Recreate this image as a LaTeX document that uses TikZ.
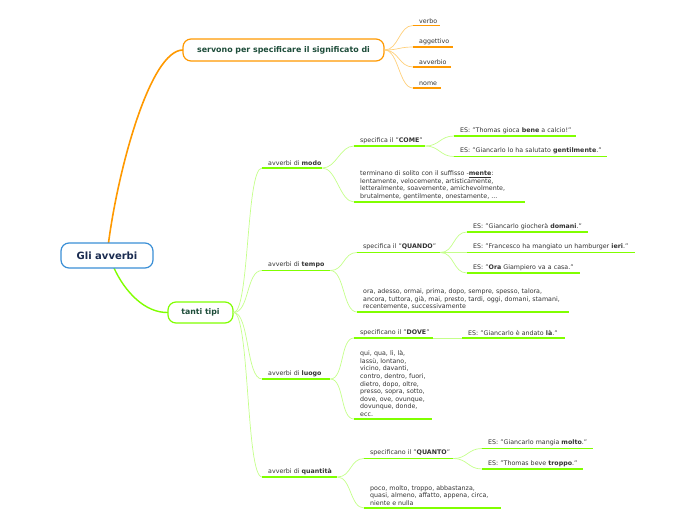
\documentclass[tikz,border=0pt]{standalone}
\usepackage{fontspec}
\setmainfont{DejaVu Sans}
\definecolor{orng}{HTML}{FF9900}
\definecolor{orlight}{HTML}{FFCF7A}
\definecolor{grn}{HTML}{80FF00}
\definecolor{glight}{HTML}{C4FF8A}
\definecolor{navy}{HTML}{1A2B50}
\definecolor{dgreen}{HTML}{1E4D3A}
\definecolor{bluebd}{HTML}{3A8FD6}
\definecolor{txt}{HTML}{333333}
\begin{document}
\begin{tikzpicture}[x=1pt,y=-1pt,
  font=\fontsize{6.3}{7.6}\selectfont,
  box/.style={rounded corners=8pt, line width=1.2pt, fill=white, inner sep=0pt},
  leaf/.style={anchor=south west, inner xsep=6pt, inner ysep=2.2pt, align=left, text=txt, text width=#1},
  gul/.style={draw=grn, line width=1.8pt},
  oul/.style={draw=orng, line width=1.6pt},
  gc/.style={draw=glight, line width=0.7pt, to path={.. controls +(#1,0) and +(-#1,0) .. (\tikztotarget)}},
  gc/.default=14,
  oc/.style={draw=orlight, line width=0.7pt, to path={.. controls +(#1,0) and +(-#1,0) .. (\tikztotarget)}},
  oc/.default=14]
\useasboundingbox (0,0) rectangle (696,520);

% main connectors
\draw[orng, line width=1.6pt] (108.5,243) .. controls (118,170) and (150,50) .. (183,50) coordinate (oend);
\draw[grn, line width=1.4pt] (114,268) .. controls (125,292) and (145,313) .. (168,312.5) coordinate (gend);

% main boxes
\node[box, draw=bluebd, minimum width=92pt, minimum height=25pt, font=\fontsize{10}{12}\selectfont\bfseries, text=navy] (root) at (107,255.5) {Gli avverbi};
\node[box, draw=orng, minimum width=201pt, minimum height=22pt, font=\fontsize{7.9}{9}\selectfont\bfseries, text=dgreen] (servono) at (283.5,50) {servono per specificare il significato di};
\node[box, draw=grn, minimum width=65pt, minimum height=21pt, font=\fontsize{7.8}{9}\selectfont\bfseries, text=dgreen] (tanti) at (200.5,312.5) {tanti tipi};

% orange leaves
\node[leaf=15pt] (verbo) at (413,25.5) {\mbox{verbo}};
\node[leaf=28pt] (aggettivo) at (413,47) {\mbox{aggettivo}};
\node[leaf=26pt] (avverbio) at (413,67) {\mbox{avverbio}};
\node[leaf=16pt] (nome) at (413,88) {\mbox{nome}};

% modo
\node[leaf=48pt] (modo) at (262,168) {\mbox{avverbi di \textbf{modo}}};
\node[leaf=59pt] (come) at (354,146) {\mbox{specifica il "\textbf{COME}"}};
\node[leaf=110pt] (thomas) at (454,136) {\mbox{ES: "Thomas gioca \textbf{bene} a calcio!"}};
\node[leaf=141pt] (gentil) at (454,156.5) {\mbox{ES: "Giancarlo lo ha salutato \textbf{gentilmente}."}};
\node[leaf=159pt] (terminano) at (354,202) {\mbox{terminano di solito con il suffisso -\underline{\textbf{mente}}:}\\\mbox{lentamente, velocemente, artisticamente,}\\\mbox{letteralmente, soavemente, amichevolmente,}\\\mbox{brutalmente, gentilmente, onestamente, ...}};

% tempo
\node[leaf=56pt] (tempo) at (262,270.5) {\mbox{avverbi di \textbf{tempo}}};
\node[leaf=71pt] (quando) at (357,252.5) {\mbox{specifica il "\textbf{QUANDO}"}};
\node[leaf=109pt] (domani) at (467,232) {\mbox{ES: "Giancarlo giocherà \textbf{domani}."}};
\node[leaf=156pt] (ieri) at (467,252.5) {\mbox{ES: "Francesco ha mangiato un hamburger \textbf{ieri}."}};
\node[leaf=101pt] (ora) at (467,273) {\mbox{ES: "\textbf{Ora} Giampiero va a casa."}};
\node[leaf=200pt] (oralist) at (357,312) {\mbox{ora, adesso, ormai, prima, dopo, sempre, spesso, talora,}\\\mbox{ancora, tuttora, già, mai, presto, tardi, oggi, domani, stamani,}\\\mbox{recentemente, successivamente}};

% luogo
\node[leaf=56pt] (luogo) at (262,379) {\mbox{avverbi di \textbf{luogo}}};
\node[leaf=67pt] (dove) at (354,338) {\mbox{specificano il "\textbf{DOVE}"}};
\node[leaf=91pt] (la) at (462,338) {\mbox{ES: "Giancarlo è andato \textbf{là}."}};
\node[leaf=66pt] (luogolist) at (354,419) {\mbox{qui, qua, lì, là,}\\\mbox{lassù, lontano,}\\\mbox{vicino, davanti,}\\\mbox{contro, dentro, fuori,}\\\mbox{dietro, dopo, oltre,}\\\mbox{presso, sopra, sotto,}\\\mbox{dove, ove, ovunque,}\\\mbox{dovunque, donde,}\\\mbox{ecc.}};

% quantita
\node[leaf=63pt] (quantita) at (262,477) {\mbox{avverbi di \textbf{quantità}}};
\node[leaf=77pt] (quanto) at (364,458.5) {\mbox{specificano il "\textbf{QUANTO}"}};
\node[leaf=99pt] (molto) at (482,448.5) {\mbox{ES: "Giancarlo mangia \textbf{molto}."}};
\node[leaf=89pt] (troppo) at (482,469) {\mbox{ES: "Thomas beve \textbf{troppo}."}};
\node[leaf=125pt] (quantolist) at (364,508) {\mbox{poco, molto, troppo, abbastanza,}\\\mbox{quasi, almeno, affatto, appena, circa,}\\\mbox{niente e nulla}};

% connectors
\foreach \n in {verbo,aggettivo,avverbio,nome} \draw[oc] (servono.east) to (\n.south west);
\foreach \n in {modo,tempo,luogo,quantita} \draw[gc=16] (tanti.east) to (\n.south west);

\draw[gc] (modo.south east) to (come.south west);
\draw[gc] (modo.south east) to (terminano.south west);
\draw[gc] (come.south east) to (thomas.south west);
\draw[gc] (come.south east) to (gentil.south west);

\draw[gc] (tempo.south east) to (quando.south west);
\draw[gc] (tempo.south east) to (oralist.south west);
\draw[gc] (quando.south east) to (domani.south west);
\draw[gc] (quando.south east) to (ieri.south west);
\draw[gc] (quando.south east) to (ora.south west);

\draw[gc] (luogo.south east) to (dove.south west);
\draw[gc] (luogo.south east) to (luogolist.south west);
\draw[gc] (dove.south east) to (la.south west);

\draw[gc] (quantita.south east) to (quanto.south west);
\draw[gc] (quantita.south east) to (quantolist.south west);
\draw[gc] (quanto.south east) to (molto.south west);
\draw[gc] (quanto.south east) to (troppo.south west);

% underlines
\foreach \n in {verbo,aggettivo,avverbio,nome} \draw[oul] (\n.south west) -- (\n.south east);
\foreach \n in {modo,come,thomas,gentil,terminano,tempo,quando,domani,ieri,ora,oralist,luogo,dove,la,luogolist,quantita,quanto,molto,troppo,quantolist}
  \draw[gul] (\n.south west) -- (\n.south east);
\end{tikzpicture}
\end{document}
